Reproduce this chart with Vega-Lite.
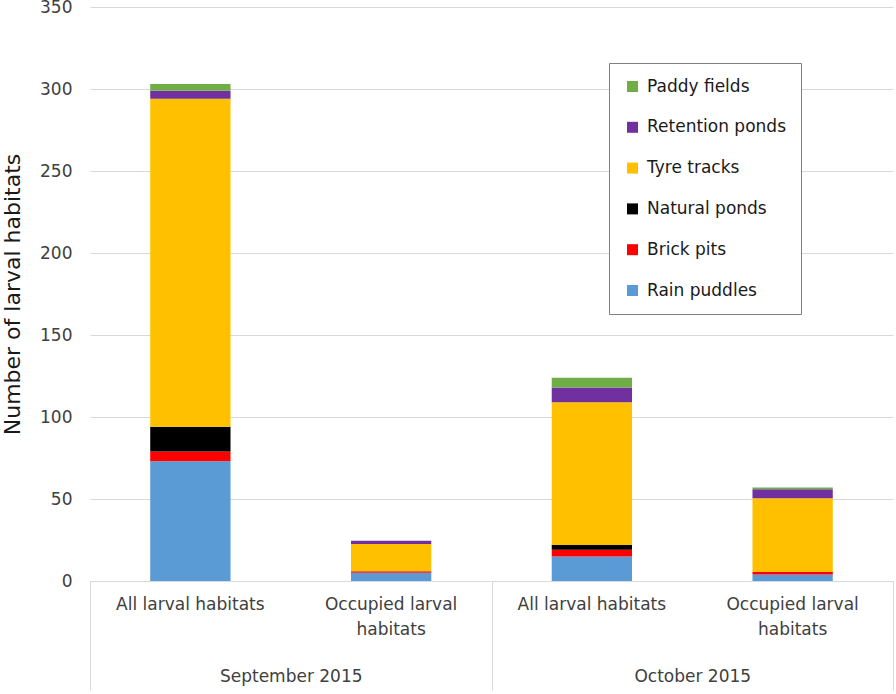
{
  "$schema": "https://vega.github.io/schema/vega-lite/v6.json",
  "width": 803,
  "height": 574,
  "autosize": "none",
  "padding": {"left": 90, "top": 7, "right": 3, "bottom": 113},
  "background": "white",
  "config": {
    "font": "DejaVu Sans",
    "view": {"stroke": null},
    "axis": {"labelFont": "DejaVu Sans", "titleFont": "DejaVu Sans"},
    "legend": {"labelFont": "DejaVu Sans"}
  },
  "data": {
    "values": [
      {"key": "Sep-All", "month": "September 2015", "type": "Rain puddles", "rank": 1, "value": 73},
      {"key": "Sep-All", "month": "September 2015", "type": "Brick pits", "rank": 2, "value": 6},
      {"key": "Sep-All", "month": "September 2015", "type": "Natural ponds", "rank": 3, "value": 15},
      {"key": "Sep-All", "month": "September 2015", "type": "Tyre tracks", "rank": 4, "value": 200},
      {"key": "Sep-All", "month": "September 2015", "type": "Retention ponds", "rank": 5, "value": 5},
      {"key": "Sep-All", "month": "September 2015", "type": "Paddy fields", "rank": 6, "value": 4},
      {"key": "Sep-Occ", "month": "September 2015", "type": "Rain puddles", "rank": 1, "value": 5},
      {"key": "Sep-Occ", "month": "September 2015", "type": "Brick pits", "rank": 2, "value": 1},
      {"key": "Sep-Occ", "month": "September 2015", "type": "Natural ponds", "rank": 3, "value": 0},
      {"key": "Sep-Occ", "month": "September 2015", "type": "Tyre tracks", "rank": 4, "value": 16.5},
      {"key": "Sep-Occ", "month": "September 2015", "type": "Retention ponds", "rank": 5, "value": 2},
      {"key": "Sep-Occ", "month": "September 2015", "type": "Paddy fields", "rank": 6, "value": 0},
      {"key": "Oct-All", "month": "October 2015", "type": "Rain puddles", "rank": 1, "value": 15},
      {"key": "Oct-All", "month": "October 2015", "type": "Brick pits", "rank": 2, "value": 4},
      {"key": "Oct-All", "month": "October 2015", "type": "Natural ponds", "rank": 3, "value": 3},
      {"key": "Oct-All", "month": "October 2015", "type": "Tyre tracks", "rank": 4, "value": 87},
      {"key": "Oct-All", "month": "October 2015", "type": "Retention ponds", "rank": 5, "value": 9},
      {"key": "Oct-All", "month": "October 2015", "type": "Paddy fields", "rank": 6, "value": 6},
      {"key": "Oct-Occ", "month": "October 2015", "type": "Rain puddles", "rank": 1, "value": 4},
      {"key": "Oct-Occ", "month": "October 2015", "type": "Brick pits", "rank": 2, "value": 1.5},
      {"key": "Oct-Occ", "month": "October 2015", "type": "Natural ponds", "rank": 3, "value": 0},
      {"key": "Oct-Occ", "month": "October 2015", "type": "Tyre tracks", "rank": 4, "value": 45},
      {"key": "Oct-Occ", "month": "October 2015", "type": "Retention ponds", "rank": 5, "value": 5.5},
      {"key": "Oct-Occ", "month": "October 2015", "type": "Paddy fields", "rank": 6, "value": 1}
    ]
  },
  "layer": [
    {
      "mark": {"type": "bar", "opacity": 0},
      "encoding": {
        "x": {
          "field": "month",
          "type": "nominal",
          "sort": ["September 2015", "October 2015"],
          "scale": {"paddingInner": 0, "paddingOuter": 0},
          "axis": {
            "orient": "bottom",
            "title": null,
            "domain": false,
            "ticks": true,
            "tickBand": "extent",
            "tickSize": 109,
            "tickColor": "#d9d9d9",
            "tickWidth": 1,
            "labelAngle": 0,
            "labelPadding": -22,
            "labelFontSize": 17,
            "labelColor": "#404040",
            "labelBaseline": "top"
          }
        },
        "y": {"datum": 0, "type": "quantitative"}
      }
    },
    {
      "mark": {"type": "bar"},
      "encoding": {
        "x": {
          "field": "key",
          "type": "nominal",
          "sort": ["Sep-All", "Sep-Occ", "Oct-All", "Oct-Occ"],
          "scale": {"paddingInner": 0.6, "paddingOuter": 0.3},
          "axis": {
            "orient": "bottom",
            "title": null,
            "domain": true,
            "domainColor": "#d9d9d9",
            "domainWidth": 1,
            "ticks": false,
            "labelAngle": 0,
            "labelPadding": 15,
            "labelFontSize": 17,
            "labelColor": "#404040",
            "labelLineHeight": 25,
            "labelBaseline": "top",
            "labelExpr": "indexof(datum.value, 'Occ') >= 0 ? ['Occupied larval', 'habitats'] : 'All larval habitats'"
          }
        },
        "y": {
          "field": "value",
          "type": "quantitative",
          "aggregate": "sum",
          "stack": "zero",
          "scale": {"domain": [0, 350]},
          "axis": {
            "title": "Number of larval habitats",
            "titleFontSize": 22,
            "titleFontWeight": "normal",
            "titleColor": "#1a1a1a",
            "titlePadding": 15,
            "values": [0, 50, 100, 150, 200, 250, 300, 350],
            "domain": false,
            "ticks": false,
            "grid": true,
            "gridColor": "#d9d9d9",
            "gridWidth": 1,
            "labelFontSize": 17,
            "labelColor": "#404040",
            "labelPadding": 18
          }
        },
        "color": {
          "field": "type",
          "type": "nominal",
          "scale": {
            "domain": ["Paddy fields", "Retention ponds", "Tyre tracks", "Natural ponds", "Brick pits", "Rain puddles"],
            "range": ["#70ad47", "#7030a0", "#ffc000", "#000000", "#ff0000", "#5b9bd5"]
          },
          "legend": {
            "title": null,
            "orient": "none",
            "legendX": 519,
            "legendY": 56,
            "symbolType": "square",
            "symbolSize": 121,
            "symbolStrokeWidth": 0,
            "labelFontSize": 17,
            "labelColor": "#1a1a1a",
            "labelOffset": 6,
            "rowPadding": 22.8,
            "padding": 15,
            "fillColor": "white",
            "strokeColor": "#808080"
          }
        },
        "order": {"field": "rank", "type": "quantitative", "sort": "ascending"}
      }
    }
  ],
  "resolve": {"scale": {"x": "independent"}, "axis": {"x": "independent"}}
}
